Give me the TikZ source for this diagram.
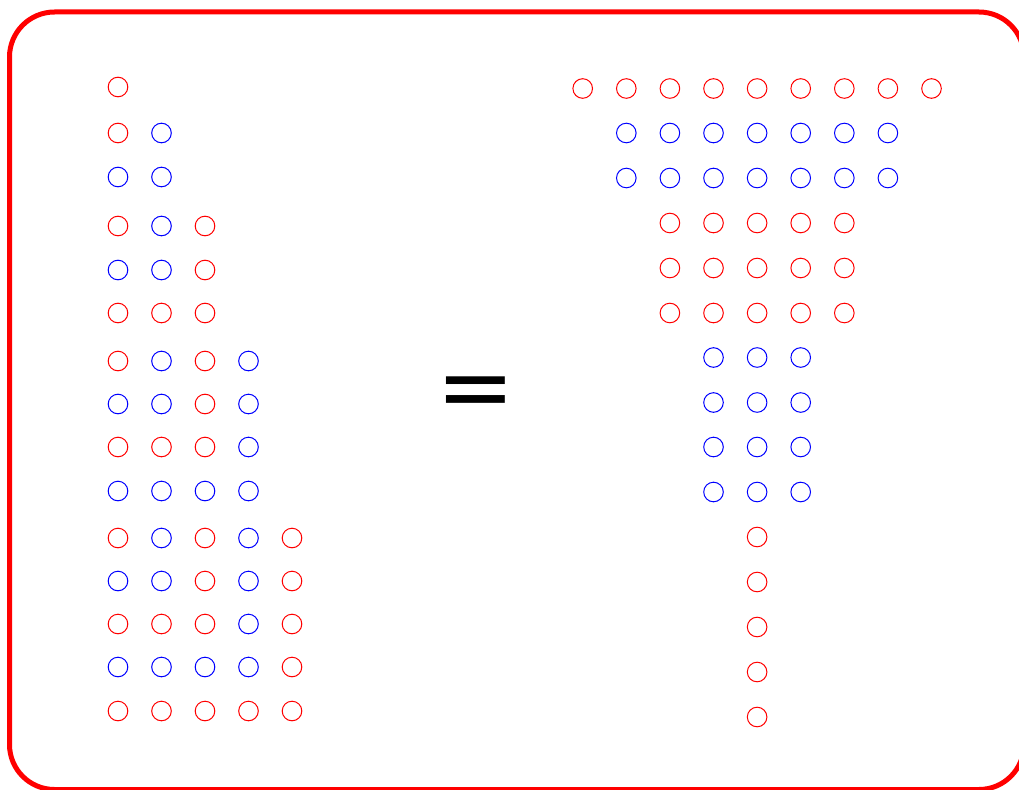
\documentclass[tikz,border=0pt]{standalone}
\usepackage{fontspec}
\newfontfamily\eqfont{DejaVu Sans}
\begin{document}
\begin{tikzpicture}[x=1pt,y=-1pt,
  dot/.style={circle,draw=#1,line width=1pt,minimum size=19.6pt,inner sep=0pt},
  frame/.style={draw=red,line width=5pt,rounded corners=45pt}]
\useasboundingbox (0,0) rectangle (1019,789);
\begin{scope}
\clip (0,0) rectangle (1019,789);
\draw[frame] (9.5,12) rectangle (1024,789.5);
\end{scope}
% left: stacked squares
\foreach \y/\row [count=\r] in {
  87/{red},
  133/{red,blue}, 177/{blue,blue},
  226/{red,blue,red}, 270/{blue,blue,red}, 313/{red,red,red},
  361/{red,blue,red,blue}, 404/{blue,blue,red,blue}, 447/{red,red,red,blue}, 491/{blue,blue,blue,blue},
  538/{red,blue,red,blue,red}, 581/{blue,blue,red,blue,red}, 624/{red,red,red,blue,red}, 667/{blue,blue,blue,blue,red}, 711/{red,red,red,red,red}}
{
  \foreach \c [count=\i] in \row {
    \node[dot=\c] (L\r-\i) at ({118+43.5*(\i-1)},\y) {};
  }
}
% right: inverted pyramid
\foreach \y/\s/\n/\c [count=\r] in {
  88.5/0/9/red, 133/1/7/blue, 178/1/7/blue,
  223/2/5/red, 268/2/5/red, 313/2/5/red,
  357.5/3/3/blue, 402.5/3/3/blue, 447/3/3/blue, 492/3/3/blue,
  537/4/1/red, 582/4/1/red, 627/4/1/red, 672/4/1/red, 717/4/1/red}
{
  \foreach \i in {1,...,\n} {
    \node[dot=\c] (R\r-\i) at ({582.7+43.6*(\s+\i-1)},\y) {};
  }
}
\node (eq) at (476,398.5) {\eqfont\fontsize{94}{94}\selectfont =};
\end{tikzpicture}
\end{document}
